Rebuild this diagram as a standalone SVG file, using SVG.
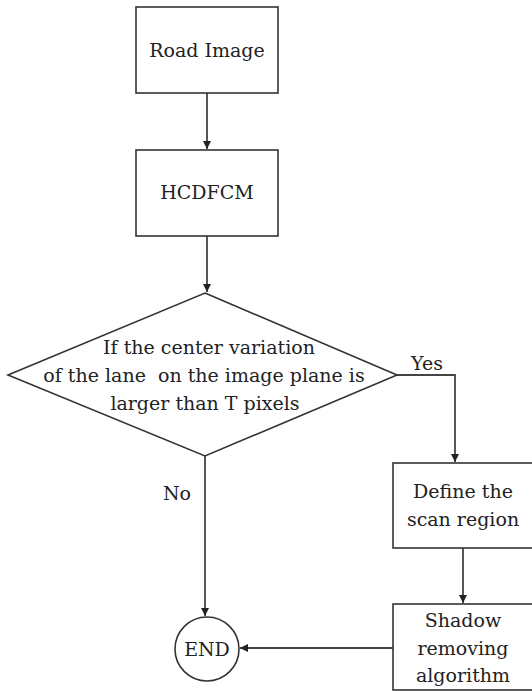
<svg xmlns="http://www.w3.org/2000/svg" width="532" height="691" viewBox="0 0 532 691">
<defs>
<style>
.box{fill:#fff;stroke:#333;stroke-width:1.6}
.ln{fill:none;stroke:#444;stroke-width:1.8}
text{font-family:"DejaVu Serif",serif;font-size:19px;fill:#222;text-anchor:middle;white-space:pre}
</style>
<marker id="ah" viewBox="0 0 10 10" refX="10" refY="5" markerWidth="8" markerHeight="8" orient="auto" markerUnits="userSpaceOnUse">
<path d="M0,0 L10,5 L0,10 z" fill="#222"/>
</marker>
</defs>
<rect width="532" height="691" fill="#fff"/>
<g id="connectors">
<line class="ln" x1="207" y1="93" x2="207" y2="149" marker-end="url(#ah)"/>
<line class="ln" x1="207" y1="236" x2="207" y2="292" marker-end="url(#ah)"/>
<polyline class="ln" points="397,375 455,375 455,462" marker-end="url(#ah)"/>
<line class="ln" x1="205" y1="456" x2="205" y2="616" marker-end="url(#ah)"/>
<line class="ln" x1="463" y1="548" x2="463" y2="603" marker-end="url(#ah)"/>
<line class="ln" x1="393" y1="648" x2="240" y2="648" marker-end="url(#ah)"/>
<text x="427" y="370">Yes</text>
<text x="177" y="500">No</text>
</g>
<g id="road-image">
<rect class="box" x="136" y="7" width="142" height="86"/>
<text x="207" y="57">Road Image</text>
</g>
<g id="hcdfcm">
<rect class="box" x="136" y="150" width="142" height="86"/>
<text x="207" y="199">HCDFCM</text>
</g>
<g id="decision">
<polygon class="box" points="205,293 397,375 205,456 8,375"/>
<text x="209" y="354">If the center variation</text>
<text x="204" y="382" xml:space="preserve">of the lane  on the image plane is</text>
<text x="205" y="410">larger than T pixels</text>
</g>
<g id="define">
<rect class="box" x="393" y="463" width="140" height="85"/>
<text x="463" y="498">Define the</text>
<text x="463" y="526">scan region</text>
</g>
<g id="shadow">
<rect class="box" x="393" y="604" width="140" height="86"/>
<text x="463" y="627">Shadow</text>
<text x="463" y="655">removing</text>
<text x="463" y="682">algorithm</text>
</g>
<g id="end">
<circle class="box" cx="207" cy="649" r="32"/>
<text x="207" y="656">END</text>
</g>
</svg>
